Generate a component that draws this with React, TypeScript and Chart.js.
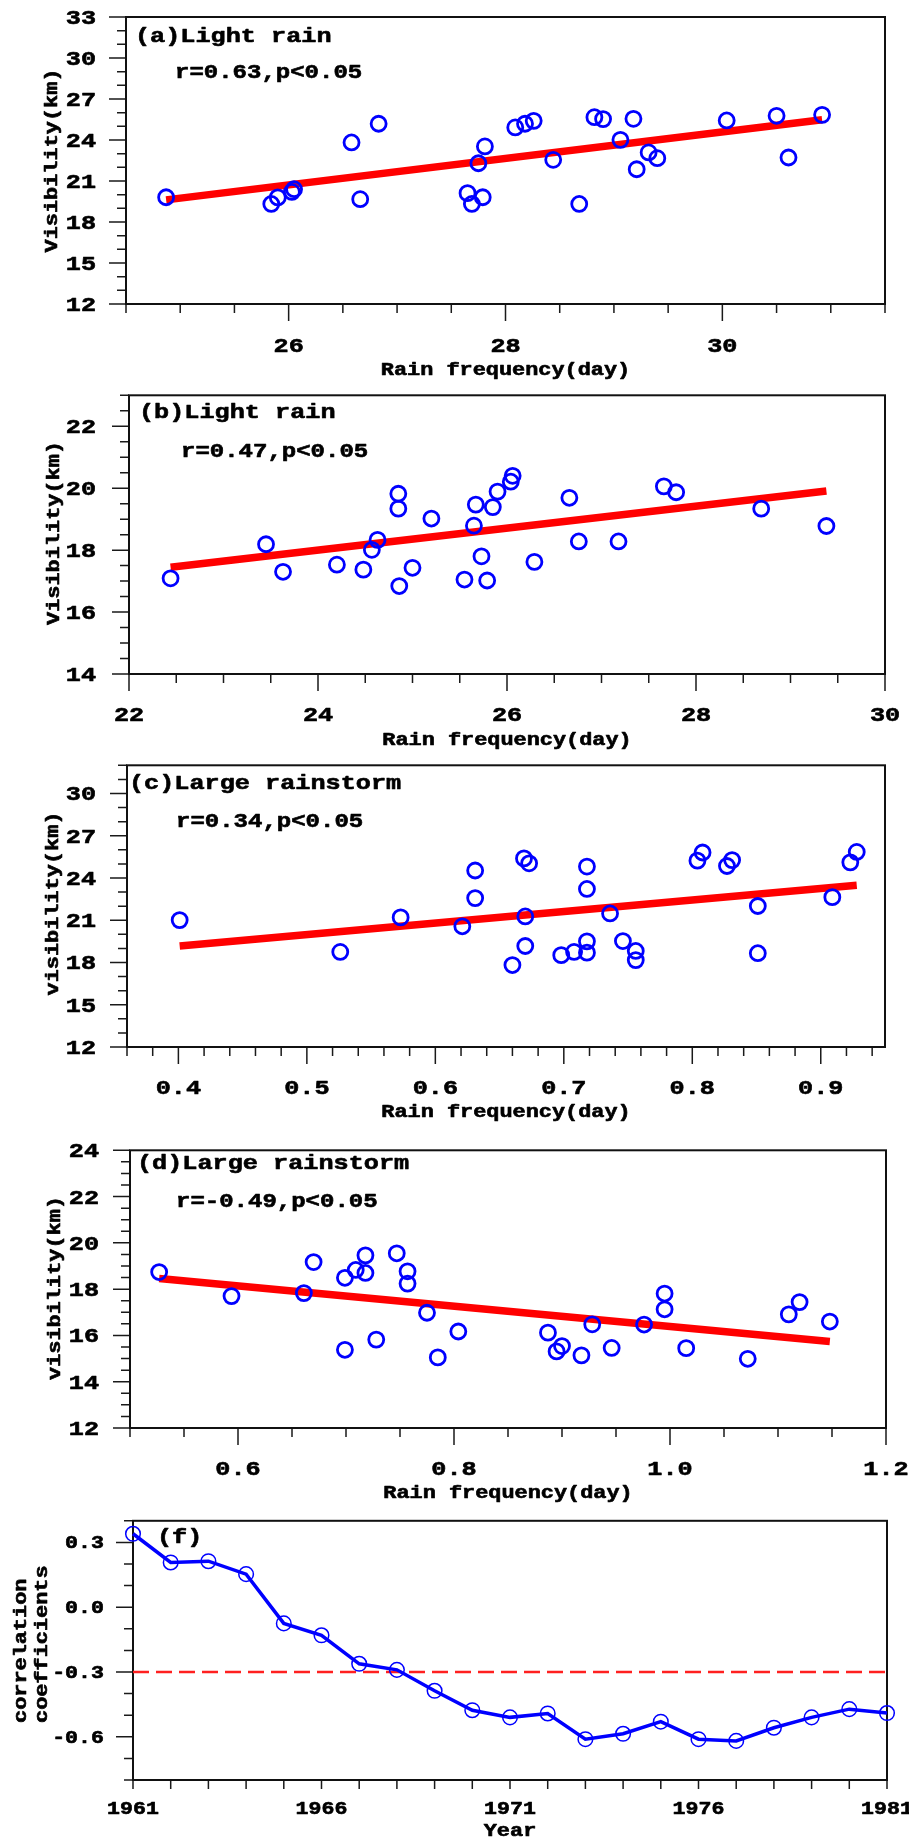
import React, { useEffect, useRef } from "react";
import { Chart, registerables } from "chart.js";

Chart.register(...registerables);

const FONT = '"Liberation Mono", "DejaVu Sans Mono", monospace';
const BLUE = "#0000ff";
const RED = "#ff0000";
const PAGE_W = 909;

// (a) Light rain: rain frequency (day) vs visibility (km)
const freqA = [24.87, 25.84, 25.9, 26.03, 26.05, 26.58, 26.66, 26.83, 27.65, 27.69, 27.75, 27.79, 27.81, 28.09, 28.18, 28.26, 28.44, 28.68, 28.82, 28.9, 29.06, 29.18, 29.21, 29.32, 29.4, 30.04, 30.5, 30.61, 30.92];
const visA = [19.81, 19.32, 19.8, 20.2, 20.4, 23.82, 19.67, 25.19, 20.11, 19.32, 22.3, 19.81, 23.53, 24.92, 25.19, 25.4, 22.55, 19.32, 25.67, 25.53, 24.01, 25.55, 21.86, 23.09, 22.67, 25.43, 25.77, 22.72, 25.84];
const fitFreqA = [24.87, 30.92];
const fitVisA = [19.62, 25.48];
const xTicksA = [26, 28, 30];
const yTicksA = [12, 15, 18, 21, 24, 27, 30, 33];

// (b) Light rain
const freqB = [22.44, 23.45, 23.63, 24.2, 24.48, 24.57, 24.63, 24.85, 24.85, 24.86, 25.0, 25.2, 25.55, 25.65, 25.67, 25.73, 25.79, 25.85, 25.9, 26.04, 26.06, 26.29, 26.66, 26.76, 27.18, 27.66, 27.79, 28.69, 29.38];
const visB = [17.09, 18.19, 17.3, 17.53, 17.37, 18.01, 18.33, 19.82, 19.34, 16.84, 17.43, 19.02, 17.05, 18.79, 19.47, 17.8, 17.02, 19.39, 19.89, 20.21, 20.4, 17.62, 19.69, 18.28, 18.28, 20.06, 19.87, 19.34, 18.78];
const fitFreqB = [22.44, 29.38];
const fitVisB = [17.45, 19.91];
const xTicksB = [22, 24, 26, 28, 30];
const yTicksB = [14, 16, 18, 20, 22];

// (c) Large rainstorm
const freqC = [0.401, 0.526, 0.573, 0.621, 0.631, 0.631, 0.66, 0.669, 0.673, 0.67, 0.67, 0.698, 0.708, 0.718, 0.718, 0.718, 0.718, 0.736, 0.746, 0.756, 0.756, 0.804, 0.808, 0.827, 0.831, 0.851, 0.851, 0.909, 0.923, 0.928];
const visC = [21.01, 18.75, 21.2, 20.57, 24.53, 22.57, 17.82, 25.39, 25.04, 21.27, 19.17, 18.52, 18.75, 24.81, 23.22, 19.5, 18.7, 21.48, 19.52, 18.82, 18.17, 25.23, 25.81, 24.85, 25.27, 22.01, 18.66, 22.64, 25.11, 25.85];
const fitFreqC = [0.401, 0.928];
const fitVisC = [19.17, 23.48];
const xTicksC = [0.4, 0.5, 0.6, 0.7, 0.8, 0.9];
const yTicksC = [12, 15, 18, 21, 24, 27, 30];

// (d) Large rainstorm
const freqD = [0.527, 0.594, 0.661, 0.67, 0.699, 0.699, 0.709, 0.718, 0.718, 0.728, 0.747, 0.757, 0.757, 0.775, 0.785, 0.804, 0.887, 0.895, 0.9, 0.918, 0.928, 0.946, 0.976, 0.995, 0.995, 1.015, 1.072, 1.11, 1.12, 1.148];
const visD = [18.74, 17.7, 17.83, 19.17, 18.49, 15.38, 18.83, 19.46, 18.7, 15.82, 19.55, 18.77, 18.24, 16.98, 15.05, 16.17, 16.12, 15.31, 15.54, 15.14, 16.48, 15.46, 16.47, 17.81, 17.13, 15.45, 14.99, 16.91, 17.44, 16.6];
const fitFreqD = [0.527, 1.148];
const fitVisD = [18.46, 15.74];
const xTicksD = [0.6, 0.8, 1.0, 1.2];
const yTicksD = [12, 14, 16, 18, 20, 22, 24];

// (f) Running correlation coefficients by start year
const years = [1961, 1962, 1963, 1964, 1965, 1966, 1967, 1968, 1969, 1970, 1971, 1972, 1973, 1974, 1975, 1976, 1977, 1978, 1979, 1980, 1981];
const corr = [0.34, 0.207, 0.213, 0.153, -0.075, -0.13, -0.262, -0.29, -0.387, -0.477, -0.51, -0.492, -0.611, -0.586, -0.53, -0.611, -0.619, -0.558, -0.51, -0.472, -0.49];
const significance = -0.3;
const xTicksF = [1961, 1966, 1971, 1976, 1981];
const yTicksF = [-0.6, -0.3, 0.0, 0.3];

type TextItem = {
  text: string;
  x: number;
  y: number;
  size: number;
  align: CanvasTextAlign;
  sx?: number;
  rot?: boolean;
};

type PanelSpec = {
  top: number;
  height: number;
  area: { l: number; r: number; t: number; b: number };
  xRange: [number, number];
  yRange: [number, number];
  xMajor: number[];
  xMinorStep: number;
  xMajorLen: number;
  xDec: number;
  yMajor: number[];
  yMinorStep: number;
  yDec: number;
  tickSize: number;
  xLabelY: number;
  yLabelRight: number;
  texts: TextItem[];
  datasets: any[];
};

const toPoints = (xs: number[], ys: number[]) => xs.map((x, i) => ({ x, y: ys[i] }));

const scatterSet = (xs: number[], ys: number[]) => ({
  data: toPoints(xs, ys),
  showLine: false,
  pointRadius: 7.5,
  pointHoverRadius: 7.5,
  pointBorderWidth: 2.8,
  pointBorderColor: BLUE,
  pointBackgroundColor: "rgba(0,0,0,0)",
  clip: false,
  order: 1,
});

const fitSet = (xs: number[], ys: number[]) => ({
  data: toPoints(xs, ys),
  showLine: true,
  borderColor: RED,
  borderWidth: 7.5,
  borderCapStyle: "butt",
  pointRadius: 0,
  clip: false,
  order: 2,
});

// Bold monospace text, widened horizontally, optionally rotated for y-axis titles
function drawText(ctx: CanvasRenderingContext2D, t: TextItem, offsetY: number) {
  ctx.save();
  ctx.translate(t.x, t.y - offsetY);
  if (t.rot) ctx.rotate(-Math.PI / 2);
  ctx.scale(t.sx ?? 1.2, 1);
  ctx.font = `bold ${t.size}px ${FONT}`;
  ctx.textAlign = t.align;
  ctx.textBaseline = "alphabetic";
  ctx.fillStyle = "#000";
  ctx.strokeStyle = "#000";
  ctx.lineWidth = 0.6;
  ctx.lineJoin = "round";
  ctx.fillText(t.text, 0, 0);
  ctx.strokeText(t.text, 0, 0);
  ctx.restore();
}

function steps(min: number, max: number, step: number) {
  const n = Math.floor((max - min) / step + 1e-6);
  const out: number[] = [];
  for (let i = 0; i <= n; i++) out.push(min + i * step);
  return out;
}

function framePlugin(p: PanelSpec) {
  return {
    id: "frameAndText",
    beforeDatasetsDraw(chart: any) {
      const { ctx, chartArea: a } = chart;
      const xs = chart.scales.x;
      const ys = chart.scales.y;
      ctx.save();
      ctx.strokeStyle = "#1a1a1a";
      ctx.lineWidth = 1.5;
      ctx.beginPath();
      for (const v of steps(p.xRange[0], p.xRange[1], p.xMinorStep)) {
        const px = xs.getPixelForValue(v);
        ctx.moveTo(px, a.bottom);
        ctx.lineTo(px, a.bottom + 9);
      }
      for (const v of p.xMajor) {
        const px = xs.getPixelForValue(v);
        ctx.moveTo(px, a.bottom);
        ctx.lineTo(px, a.bottom + p.xMajorLen);
      }
      for (const v of steps(p.yRange[0], p.yRange[1], p.yMinorStep)) {
        const py = ys.getPixelForValue(v);
        ctx.moveTo(a.left, py);
        ctx.lineTo(a.left - 9, py);
      }
      for (const v of p.yMajor) {
        const py = ys.getPixelForValue(v);
        ctx.moveTo(a.left, py);
        ctx.lineTo(a.left - 17, py);
      }
      ctx.stroke();
      ctx.lineWidth = 2;
      ctx.strokeStyle = "#111";
      ctx.strokeRect(a.left, a.top, a.right - a.left, a.bottom - a.top);
      ctx.restore();
    },
    afterDraw(chart: any) {
      const { ctx } = chart;
      const xs = chart.scales.x;
      const ys = chart.scales.y;
      for (const v of p.xMajor) {
        drawText(
          ctx,
          { text: v.toFixed(p.xDec), x: xs.getPixelForValue(v), y: p.xLabelY, size: p.tickSize, align: "center" },
          p.top
        );
      }
      for (const v of p.yMajor) {
        drawText(
          ctx,
          {
            text: v.toFixed(p.yDec),
            x: p.yLabelRight,
            y: ys.getPixelForValue(v) + p.top + p.tickSize * 0.33,
            size: p.tickSize,
            align: "right",
          },
          p.top
        );
      }
      for (const t of p.texts) drawText(ctx, t, p.top);
    },
  };
}

function PanelChart({ spec }: { spec: PanelSpec }) {
  const ref = useRef<HTMLCanvasElement | null>(null);
  useEffect(() => {
    const canvas = ref.current;
    if (!canvas) return;
    const p = spec;
    const xAxisH = p.top + p.height - p.area.b;
    const chart = new Chart(canvas, {
      type: "scatter",
      data: { datasets: p.datasets },
      options: {
        animation: false,
        responsive: false,
        devicePixelRatio: 1,
        events: [],
        layout: {
          padding: { left: 0, right: PAGE_W - p.area.r, top: p.area.t - p.top, bottom: 0 },
        },
        plugins: { legend: { display: false }, tooltip: { enabled: false }, title: { display: false } },
        scales: {
          x: {
            type: "linear",
            min: p.xRange[0],
            max: p.xRange[1],
            grid: { display: false },
            border: { display: false },
            ticks: { display: false },
            afterFit: (s: any) => {
              s.height = xAxisH;
              s.paddingLeft = 0;
              s.paddingRight = 0;
            },
          },
          y: {
            type: "linear",
            min: p.yRange[0],
            max: p.yRange[1],
            grid: { display: false },
            border: { display: false },
            ticks: { display: false },
            afterFit: (s: any) => {
              s.width = p.area.l;
              s.paddingTop = 0;
              s.paddingBottom = 0;
            },
          },
        },
      } as any,
      plugins: [framePlugin(p)],
    });
    return () => chart.destroy();
  }, [spec]);
  return (
    <canvas
      ref={ref}
      width={PAGE_W}
      height={spec.height}
      style={{ position: "absolute", left: 0, top: spec.top, width: PAGE_W, height: spec.height }}
    />
  );
}

const axisTitle = (text: string, x: number, y: number, rot = false, align: CanvasTextAlign = "center"): TextItem => ({
  text,
  x,
  y,
  size: 17.5,
  align,
  sx: 1.25,
  rot,
});

const panels: PanelSpec[] = [
  {
    top: 0,
    height: 385,
    area: { l: 126, r: 885, t: 17, b: 304 },
    xRange: [24.5, 31.5],
    yRange: [12, 33],
    xMajor: xTicksA,
    xMinorStep: 0.5,
    xMajorLen: 17,
    xDec: 0,
    yMajor: yTicksA,
    yMinorStep: 1,
    yDec: 0,
    tickSize: 21,
    xLabelY: 352,
    yLabelRight: 96,
    texts: [
      { text: "(a)Light rain", x: 135, y: 42, size: 21, align: "left" },
      { text: "r=0.63,p<0.05", x: 175, y: 78, size: 20, align: "left" },
      axisTitle("Rain frequency(day)", 505.5, 375),
      axisTitle("Visibility(km)", 57, 160.5, true),
    ],
    datasets: [fitSet(fitFreqA, fitVisA), scatterSet(freqA, visA)],
  },
  {
    top: 385,
    height: 370,
    area: { l: 129, r: 885, t: 392, b: 674 },
    xRange: [22, 30],
    yRange: [14, 23],
    xMajor: xTicksB,
    xMinorStep: 0.5,
    xMajorLen: 17,
    xDec: 0,
    yMajor: yTicksB,
    yMinorStep: 0.5,
    yDec: 0,
    tickSize: 21,
    xLabelY: 721,
    yLabelRight: 96,
    texts: [
      { text: "(b)Light rain", x: 139, y: 418, size: 21, align: "left" },
      { text: "r=0.47,p<0.05", x: 181, y: 457, size: 20, align: "left" },
      axisTitle("Rain frequency(day)", 507, 745),
      axisTitle("Visibility(km)", 59, 533, true),
    ],
    datasets: [fitSet(fitFreqB, fitVisB), scatterSet(freqB, visB)],
  },
  {
    top: 755,
    height: 385,
    area: { l: 127, r: 885, t: 760, b: 1047 },
    xRange: [0.36, 0.95],
    yRange: [12, 32],
    xMajor: xTicksC,
    xMinorStep: 0.02,
    xMajorLen: 17,
    xDec: 1,
    yMajor: yTicksC,
    yMinorStep: 1,
    yDec: 0,
    tickSize: 21,
    xLabelY: 1094,
    yLabelRight: 96,
    texts: [
      { text: "(c)Large rainstorm", x: 129, y: 789, size: 21, align: "left" },
      { text: "r=0.34,p<0.05", x: 176, y: 827, size: 20, align: "left" },
      axisTitle("Rain frequency(day)", 506, 1117),
      axisTitle("visibility(km)", 58, 903.5, true),
    ],
    datasets: [fitSet(fitFreqC, fitVisC), scatterSet(freqC, visC)],
  },
  {
    top: 1140,
    height: 372,
    area: { l: 130, r: 886, t: 1148, b: 1428 },
    xRange: [0.5, 1.2],
    yRange: [12, 24],
    xMajor: xTicksD,
    xMinorStep: 0.05,
    xMajorLen: 17,
    xDec: 1,
    yMajor: yTicksD,
    yMinorStep: 0.5,
    yDec: 0,
    tickSize: 21,
    xLabelY: 1475,
    yLabelRight: 99,
    texts: [
      { text: "(d)Large rainstorm", x: 137, y: 1169, size: 21, align: "left" },
      { text: "r=-0.49,p<0.05", x: 176, y: 1207, size: 20, align: "left" },
      axisTitle("Rain frequency(day)", 508, 1498),
      axisTitle("visibility(km)", 60, 1288, true),
    ],
    datasets: [fitSet(fitFreqD, fitVisD), scatterSet(freqD, visD)],
  },
  {
    top: 1512,
    height: 330,
    area: { l: 133, r: 887, t: 1514, b: 1780 },
    xRange: [1961, 1981],
    yRange: [-0.8, 0.4],
    xMajor: xTicksF,
    xMinorStep: 1,
    xMajorLen: 9,
    xDec: 0,
    yMajor: yTicksF,
    yMinorStep: 0.1,
    yDec: 1,
    tickSize: 18,
    xLabelY: 1814,
    yLabelRight: 104,
    texts: [
      { text: "(f)", x: 157, y: 1543, size: 21, align: "left" },
      axisTitle("Year", 510, 1836),
      axisTitle("correlation", 26, 1723, true, "left"),
      axisTitle("coefficients", 47, 1723, true, "left"),
    ],
    datasets: [
      {
        data: toPoints([years[0], years[years.length - 1]], [significance, significance]),
        showLine: true,
        borderColor: "#ff2020",
        borderWidth: 2.5,
        borderDash: [16, 7],
        pointRadius: 0,
        clip: false,
        order: 2,
      },
      {
        data: toPoints(years, corr),
        showLine: true,
        borderColor: BLUE,
        borderWidth: 3.5,
        pointRadius: 7.3,
        pointBorderWidth: 1.5,
        pointBorderColor: BLUE,
        pointBackgroundColor: "rgba(0,0,0,0)",
        clip: false,
        order: 1,
      },
    ],
  },
];

export default function App() {
  return (
    <div style={{ position: "absolute", left: 0, top: 0, width: PAGE_W, height: 1842, background: "#fff" }}>
      {panels.map((p, i) => (
        <PanelChart key={i} spec={p} />
      ))}
    </div>
  );
}
